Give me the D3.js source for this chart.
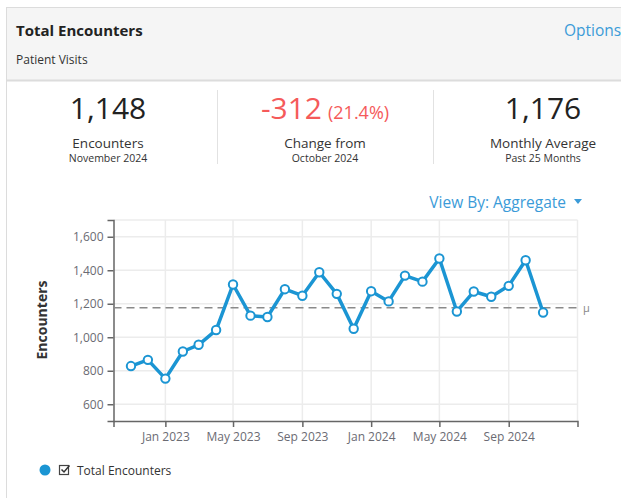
<!DOCTYPE html>
<html>
<head>
<meta charset="utf-8">
<script src="https://cdn.jsdelivr.net/npm/d3@7"></script>
<style>
  body { margin: 0; background: #ffffff; }
  svg text { font-family: "Segoe UI", "Open Sans", "Noto Sans", sans-serif; }
</style>
</head>
<body>
<div id="chart"></div>
<script>
// monthly encounters, Nov 2022 .. Nov 2024
const months = [
  "2022-11", "2022-12", "2023-01", "2023-02", "2023-03", "2023-04", "2023-05",
  "2023-06", "2023-07", "2023-08", "2023-09", "2023-10", "2023-11", "2023-12",
  "2024-01", "2024-02", "2024-03", "2024-04", "2024-05", "2024-06", "2024-07",
  "2024-08", "2024-09", "2024-10", "2024-11"
];
const encounters = [
  828, 865, 753, 915, 955, 1043, 1315,
  1129, 1121, 1287, 1248, 1388, 1259, 1051,
  1275, 1214, 1368, 1332, 1470, 1154, 1273,
  1242, 1307, 1460, 1148
];
const yTicks = [600, 800, 1000, 1200, 1400, 1600];
const xTickLabels = ["2023-01", "2023-05", "2023-09", "2024-01", "2024-05", "2024-09"];
const stats = [
  { value: "1,148", label: "Encounters", sub: "November 2024" },
  { value: "-312", extra: "(21.4%)", label: "Change from", sub: "October 2024" },
  { value: "1,176", label: "Monthly Average", sub: "Past 25 Months" }
];
const meanValue = 1176;

const width = 621;
const height = 498;
const blue = "#1b95d3";
const linkBlue = "#3b9bd8";
const red = "#f55a5a";

const parse = d3.timeParse("%Y-%m");
const data = months.map((m, i) => ({ date: parse(m), value: encounters[i] }));
const xTicks = xTickLabels.map(parse);

const svg = d3.select("#chart")
  .append("svg")
  .attr("width", width)
  .attr("height", height);

// card + header
svg.append("rect")
  .attr("x", 6.5).attr("y", 7.5)
  .attr("width", 660).attr("height", 600)
  .attr("fill", "#fff")
  .attr("stroke", "#dcdcdc");

svg.append("rect")
  .attr("x", 7).attr("y", 8)
  .attr("width", 660).attr("height", 72)
  .attr("fill", "#f5f5f5");

svg.append("line")
  .attr("x1", 7).attr("x2", width)
  .attr("y1", 80.5).attr("y2", 80.5)
  .attr("stroke", "#dcdcdc")
  .attr("stroke-width", 2);

svg.append("text")
  .attr("x", 16).attr("y", 36)
  .attr("font-size", 15).attr("font-weight", "bold")
  .attr("fill", "#222")
  .text("Total Encounters");

svg.append("text")
  .attr("x", 16).attr("y", 64)
  .attr("font-size", 12)
  .attr("fill", "#333")
  .text("Patient Visits");

svg.append("text")
  .attr("x", 564).attr("y", 36)
  .attr("font-size", 15.5)
  .attr("fill", linkBlue)
  .text("Options");

// stats row
const statX = [108, 325, 543];
stats.forEach((s, i) => {
  const g = svg.append("g").attr("transform", `translate(${statX[i]},0)`);
  const big = g.append("text")
    .attr("y", 119)
    .attr("text-anchor", "middle")
    .attr("font-size", 30)
    .attr("fill", s.extra ? red : "#222");
  if (s.extra) {
    big.append("tspan").text(s.value);
    big.append("tspan").attr("font-size", 18).attr("dx", 6).text(s.extra);
  } else {
    big.text(s.value);
  }
  g.append("text")
    .attr("y", 148)
    .attr("text-anchor", "middle")
    .attr("font-size", 13.5)
    .attr("fill", "#333")
    .text(s.label);
  g.append("text")
    .attr("y", 162)
    .attr("text-anchor", "middle")
    .attr("font-size", 10.5)
    .attr("fill", "#333")
    .text(s.sub);
});

[217.5, 433.5].forEach(x => {
  svg.append("line")
    .attr("x1", x).attr("x2", x)
    .attr("y1", 90).attr("y2", 164)
    .attr("stroke", "#e2e2e2");
});

// view by dropdown
svg.append("text")
  .attr("x", 566).attr("y", 208)
  .attr("text-anchor", "end")
  .attr("font-size", 15.5)
  .attr("fill", linkBlue)
  .text("View By: Aggregate");

svg.append("path")
  .attr("d", "M574,199 L582,199 L578,204 Z")
  .attr("fill", linkBlue);

// chart
const x = d3.scaleTime()
  .domain([new Date(2022, 9, 1), new Date(2025, 0, 1)])
  .range([113.5, 577.5]);
const y = d3.scaleLinear()
  .domain([500, 1700])
  .range([421, 220]);

const grid = svg.append("g").attr("stroke", "#ececec").attr("stroke-width", 1.5);
grid.selectAll(".hg")
  .data(yTicks.concat([1700]))
  .join("line")
  .attr("x1", x.range()[0]).attr("x2", x.range()[1])
  .attr("y1", d => y(d)).attr("y2", d => y(d));
grid.selectAll(".vg")
  .data(xTicks)
  .join("line")
  .attr("x1", d => x(d)).attr("x2", d => x(d))
  .attr("y1", y(1700)).attr("y2", y(500));
grid.append("line")
  .attr("x1", x.range()[1]).attr("x2", x.range()[1])
  .attr("y1", y(1700)).attr("y2", y(500));

const xAxis = svg.append("g")
  .attr("transform", `translate(0,${y(500)})`)
  .call(d3.axisBottom(x).tickValues(xTicks).tickFormat(d3.timeFormat("%b %Y")).tickSize(6).tickPadding(5));

const yAxis = svg.append("g")
  .attr("transform", `translate(${x.range()[0]},0)`)
  .call(d3.axisLeft(y).tickValues(yTicks).tickFormat(d3.format(",")).tickSize(6).tickPadding(4));

[xAxis, yAxis].forEach(a => {
  a.selectAll("path, line").attr("stroke", "#666").attr("stroke-width", 1.5);
  a.selectAll("text")
    .attr("fill", "#6b6b73")
    .attr("font-size", 12)
    .attr("font-family", "'Segoe UI', 'Open Sans', 'Noto Sans', sans-serif");
});

svg.append("text")
  .attr("transform", `translate(47,320) rotate(-90)`)
  .attr("text-anchor", "middle")
  .attr("font-size", 14)
  .attr("font-weight", "bold")
  .attr("fill", "#333")
  .text("Encounters");

// mean line
svg.append("line")
  .attr("x1", x.range()[0]).attr("x2", x.range()[1])
  .attr("y1", y(meanValue)).attr("y2", y(meanValue))
  .attr("stroke", "#8a8a8a")
  .attr("stroke-width", 1.5)
  .attr("stroke-dasharray", "8,5");

svg.append("text")
  .attr("x", 583).attr("y", y(meanValue) + 4)
  .attr("font-size", 11)
  .attr("fill", "#888")
  .text("μ");

// series
const line = d3.line()
  .x(d => x(d.date))
  .y(d => y(d.value));

svg.append("path")
  .datum(data)
  .attr("d", line)
  .attr("fill", "none")
  .attr("stroke", blue)
  .attr("stroke-width", 3.5)
  .attr("stroke-linejoin", "round");

svg.append("g")
  .selectAll("circle")
  .data(data)
  .join("circle")
  .attr("cx", d => x(d.date))
  .attr("cy", d => y(d.value))
  .attr("r", 4.2)
  .attr("fill", "#fff")
  .attr("stroke", blue)
  .attr("stroke-width", 2);

// legend
const legend = svg.append("g").attr("transform", "translate(45,470)");
legend.append("circle").attr("r", 5.5).attr("fill", blue);
legend.append("rect")
  .attr("x", 14.5).attr("y", -4.5)
  .attr("width", 9).attr("height", 9)
  .attr("fill", "#fff").attr("stroke", "#444").attr("stroke-width", 1.2);
legend.append("path")
  .attr("d", "M16.5,-0.5 L19,2 L24.5,-4.5")
  .attr("fill", "none").attr("stroke", "#333").attr("stroke-width", 1.5);
legend.append("text")
  .attr("x", 32).attr("y", 4.5)
  .attr("font-size", 12)
  .attr("fill", "#333")
  .text("Total Encounters");
</script>
</body>
</html>
